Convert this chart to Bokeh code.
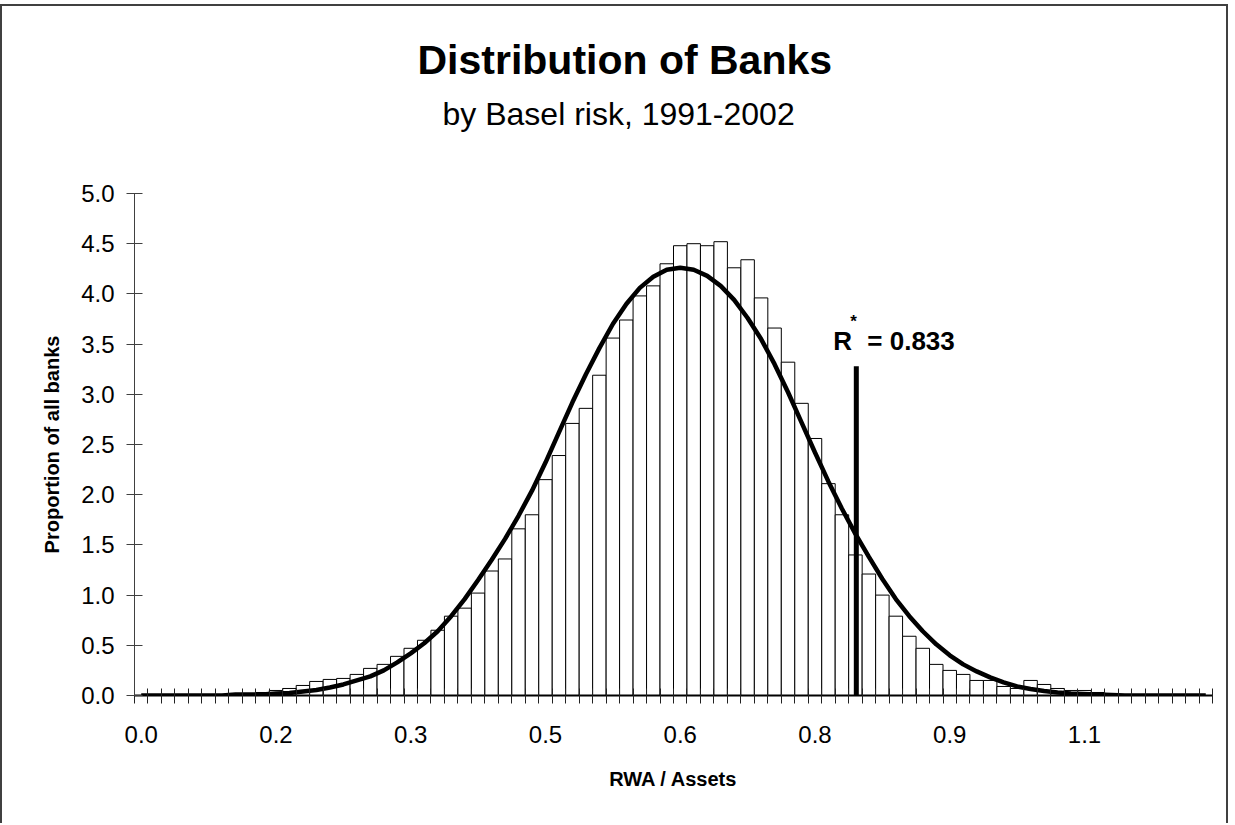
import numpy as np
from bokeh.plotting import figure
from bokeh.models import Range1d, FixedTicker, NumeralTickFormatter, Label, Title
from bokeh.embed import file_html
from bokeh.resources import INLINE

# ---------------- data ----------------
bin_width = 0.015
bar_heights = [
    0.00, 0.00, 0.00, 0.00, 0.00, 0.00, 0.00, 0.00, 0.02, 0.03,
    0.05, 0.07, 0.10, 0.14, 0.16, 0.17, 0.21, 0.27, 0.31, 0.39,
    0.47, 0.55, 0.65, 0.79, 0.87, 1.02, 1.24, 1.36, 1.66, 1.80,
    2.15, 2.39, 2.71, 2.86, 3.19, 3.56, 3.74, 3.98, 4.08, 4.30,
    4.48, 4.50, 4.48, 4.52, 4.26, 4.34, 3.96, 3.66, 3.32, 2.91,
    2.56, 2.11, 1.80, 1.40, 1.21, 1.00, 0.79, 0.59, 0.47, 0.31,
    0.25, 0.21, 0.15, 0.15, 0.09, 0.07, 0.15, 0.11, 0.07, 0.05,
    0.05, 0.03, 0.02, 0.01, 0.00, 0.00, 0.00, 0.00, 0.00, 0.00,
]
curve_values = [
    0.00, 0.00, 0.00, 0.00, 0.00, 0.00, 0.00, 0.01, 0.01, 0.01,
    0.02, 0.025, 0.04, 0.055, 0.08, 0.11, 0.15, 0.19, 0.25, 0.33,
    0.42, 0.52, 0.64, 0.79, 0.96, 1.15, 1.35, 1.56, 1.79, 2.04,
    2.32, 2.62, 2.92, 3.20, 3.46, 3.70, 3.90, 4.06, 4.17, 4.24,
    4.26, 4.24, 4.18, 4.08, 3.94, 3.76, 3.55, 3.30, 3.02, 2.72,
    2.42, 2.13, 1.86, 1.61, 1.38, 1.16, 0.96, 0.79, 0.64, 0.51,
    0.40, 0.31, 0.24, 0.18, 0.13, 0.09, 0.065, 0.045, 0.03, 0.02,
    0.015, 0.01, 0.005, 0.0, 0.0, 0.0, 0.0, 0.0, 0.0, 0.0,
]
x_tick_labels = ["0.0", "0.2", "0.3", "0.5", "0.6", "0.8", "0.9", "1.1"]
x_label_every = 10
y_ticks = [0.0, 0.5, 1.0, 1.5, 2.0, 2.5, 3.0, 3.5, 4.0, 4.5, 5.0]
rstar_text_value = "0.833"
rstar_drawn_x = 0.796
rstar_height = 3.28

title_text = "Distribution of Banks"
subtitle_text = "by Basel risk, 1991-2002"
x_title = "RWA / Assets"
y_title = "Proportion of all banks"

# ---------------- derived ----------------
n = len(bar_heights)
bins = [round(i * bin_width, 4) for i in range(n)]
left_edge = bins[0] - bin_width / 2
right_edge = bins[-1] + bin_width / 2
edges = [round(left_edge + i * bin_width, 5) for i in range(n + 1)]
label_ticks = bins[::x_label_every]

FONT = "Liberation Sans"

p = figure(
    width=1228, height=819,
    output_backend="svg", toolbar_location=None,
    x_range=Range1d(left_edge, right_edge), y_range=Range1d(0, 5),
    min_border_left=132, min_border_right=18,
    min_border_top=187, min_border_bottom=130,
)
p.styles = {
    "margin-top": "4px",
    "border-top": "2px solid #404040",
    "border-left": "2px solid #404040",
    "border-right": "2px solid #404040",
}
p.outline_line_color = None
p.grid.visible = False
p.background_fill_color = "white"
p.border_fill_color = "white"

# titles (first added sits closest to the plot frame)
p.add_layout(Title(text=" ", standoff=54, text_font=FONT, text_font_size="1px",
                   text_color="white"), "above")
p.add_layout(Title(text=subtitle_text, align="left", offset=308, standoff=10,
                   text_font=FONT, text_font_size="32px", text_font_style="normal",
                   text_color="black"), "above")
p.add_layout(Title(text=title_text, align="left", offset=283, standoff=11,
                   text_font=FONT, text_font_size="41px", text_font_style="bold",
                   text_color="black"), "above")

# bars
p.vbar(x=bins, top=bar_heights, width=bin_width, bottom=0,
       fill_color="white", line_color="black", line_width=1)
# fitted curve
p.line(bins, curve_values, line_color="black", line_width=4.5)
# R* line
p.segment(x0=[rstar_drawn_x], y0=[0], x1=[rstar_drawn_x], y1=[rstar_height],
          line_color="black", line_width=5)

# x axis
xa = p.xaxis[0]
xa.ticker = FixedTicker(ticks=label_ticks, minor_ticks=edges)
xa.major_label_overrides = {t: lab for t, lab in zip(label_ticks, x_tick_labels)}
xa.axis_line_color = "black"
xa.axis_line_width = 2
xa.major_tick_line_color = None
xa.major_tick_in = 0
xa.major_tick_out = 0
xa.minor_tick_line_color = "#222222"
xa.minor_tick_line_width = 1
xa.minor_tick_in = 7
xa.minor_tick_out = 8
xa.major_label_standoff = 22
xa.major_label_text_font = FONT
xa.major_label_text_font_size = "24px"
xa.major_label_text_color = "black"
xa.axis_label = x_title
xa.axis_label_text_font = FONT
xa.axis_label_text_font_style = "bold"
xa.axis_label_text_font_size = "20px"
xa.axis_label_text_color = "black"
xa.axis_label_standoff = 22

# y axis
ya = p.yaxis[0]
ya.ticker = FixedTicker(ticks=y_ticks)
ya.formatter = NumeralTickFormatter(format="0.0")
ya.axis_line_color = "#404040"
ya.axis_line_width = 1
ya.major_tick_line_color = "#404040"
ya.major_tick_in = 8
ya.major_tick_out = 8
ya.minor_tick_line_color = None
ya.major_label_standoff = 12
ya.major_label_text_font = FONT
ya.major_label_text_font_size = "24px"
ya.major_label_text_color = "black"
ya.axis_label = y_title
ya.axis_label_text_font = FONT
ya.axis_label_text_font_style = "bold"
ya.axis_label_text_font_size = "20px"
ya.axis_label_text_color = "black"
ya.axis_label_standoff = 15

# R* annotation
p.add_layout(Label(x=rstar_drawn_x, y=rstar_height, x_offset=-23, y_offset=25,
                   text="R", text_align="left", text_baseline="alphabetic",
                   text_font=FONT, text_font_style="bold",
                   text_font_size="26px", text_color="black"))
p.add_layout(Label(x=rstar_drawn_x, y=rstar_height, x_offset=-6, y_offset=54,
                   text="*", text_align="left", text_baseline="top",
                   text_font=FONT, text_font_style="bold",
                   text_font_size="17px", text_color="black"))
p.add_layout(Label(x=rstar_drawn_x, y=rstar_height, x_offset=11, y_offset=25,
                   text="= " + rstar_text_value, text_align="left", text_baseline="alphabetic",
                   text_font=FONT, text_font_style="bold",
                   text_font_size="26px", text_color="black"))

open("out.html", "w").write(file_html(p, INLINE))
